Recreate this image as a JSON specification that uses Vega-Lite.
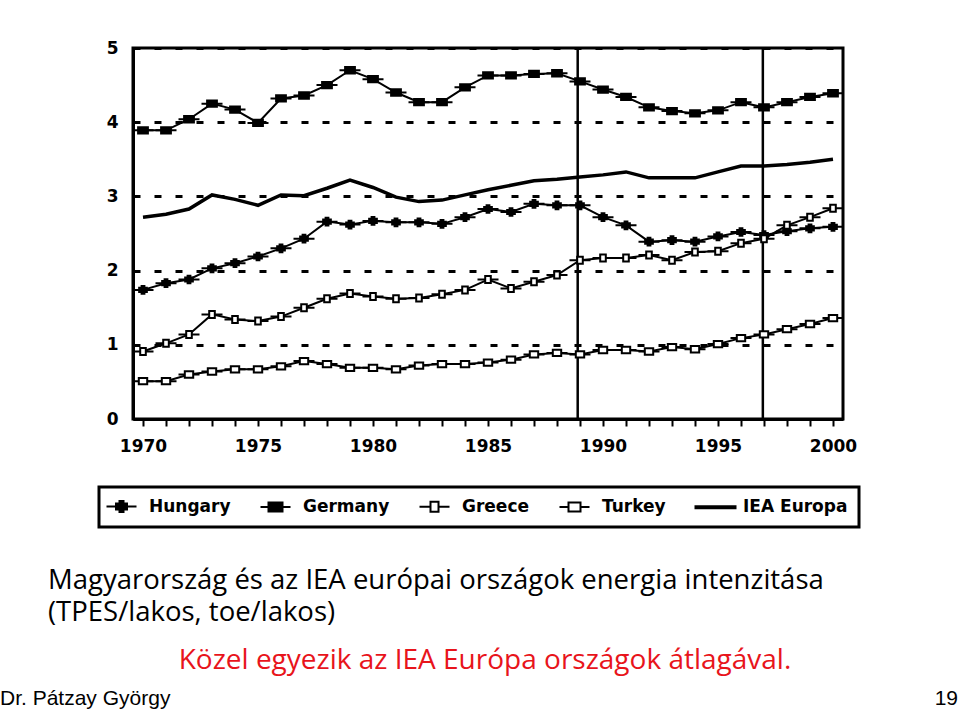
{
  "$schema": "https://vega.github.io/schema/vega-lite/v6.json",
  "padding": {"left": 0, "top": 37, "right": 0, "bottom": 0},
  "background": "white",
  "spacing": 0,
  "config": {
    "view": {"stroke": null},
    "font": "DejaVu Sans",
    "legend": {
      "orient": "none",
      "legendX": -34,
      "legendY": 439,
      "direction": "horizontal",
      "columns": 5,
      "title": null,
      "strokeColor": "black",
      "strokeWidth": 3,
      "fillColor": "white",
      "padding": 11,
      "columnPadding": 25,
      "symbolSize": 100,
      "symbolStrokeWidth": 2,
      "symbolStrokeColor": "black",
      "symbolOffset": 3,
      "labelOffset": 19,
      "labelFont": "DejaVu Sans",
      "labelFontWeight": "bold",
      "labelFontSize": 17,
      "labelColor": "black"
    }
  },
  "datasets": {
    "series": [
      {"year":1970,"series":"Hungary","value":1.74},{"year":1971,"series":"Hungary","value":1.83},{"year":1972,"series":"Hungary","value":1.88},{"year":1973,"series":"Hungary","value":2.03},{"year":1974,"series":"Hungary","value":2.10},{"year":1975,"series":"Hungary","value":2.19},{"year":1976,"series":"Hungary","value":2.30},{"year":1977,"series":"Hungary","value":2.43},{"year":1978,"series":"Hungary","value":2.66},{"year":1979,"series":"Hungary","value":2.62},{"year":1980,"series":"Hungary","value":2.67},{"year":1981,"series":"Hungary","value":2.65},{"year":1982,"series":"Hungary","value":2.65},{"year":1983,"series":"Hungary","value":2.63},{"year":1984,"series":"Hungary","value":2.72},{"year":1985,"series":"Hungary","value":2.83},{"year":1986,"series":"Hungary","value":2.79},{"year":1987,"series":"Hungary","value":2.90},{"year":1988,"series":"Hungary","value":2.88},{"year":1989,"series":"Hungary","value":2.88},{"year":1990,"series":"Hungary","value":2.72},{"year":1991,"series":"Hungary","value":2.61},{"year":1992,"series":"Hungary","value":2.39},{"year":1993,"series":"Hungary","value":2.41},{"year":1994,"series":"Hungary","value":2.39},{"year":1995,"series":"Hungary","value":2.46},{"year":1996,"series":"Hungary","value":2.52},{"year":1997,"series":"Hungary","value":2.48},{"year":1998,"series":"Hungary","value":2.53},{"year":1999,"series":"Hungary","value":2.57},{"year":2000,"series":"Hungary","value":2.59},
      {"year":1970,"series":"Germany","value":3.89},{"year":1971,"series":"Germany","value":3.89},{"year":1972,"series":"Germany","value":4.04},{"year":1973,"series":"Germany","value":4.25},{"year":1974,"series":"Germany","value":4.17},{"year":1975,"series":"Germany","value":3.99},{"year":1976,"series":"Germany","value":4.32},{"year":1977,"series":"Germany","value":4.36},{"year":1978,"series":"Germany","value":4.50},{"year":1979,"series":"Germany","value":4.70},{"year":1980,"series":"Germany","value":4.58},{"year":1981,"series":"Germany","value":4.40},{"year":1982,"series":"Germany","value":4.27},{"year":1983,"series":"Germany","value":4.27},{"year":1984,"series":"Germany","value":4.47},{"year":1985,"series":"Germany","value":4.63},{"year":1986,"series":"Germany","value":4.63},{"year":1987,"series":"Germany","value":4.65},{"year":1988,"series":"Germany","value":4.66},{"year":1989,"series":"Germany","value":4.55},{"year":1990,"series":"Germany","value":4.44},{"year":1991,"series":"Germany","value":4.34},{"year":1992,"series":"Germany","value":4.20},{"year":1993,"series":"Germany","value":4.15},{"year":1994,"series":"Germany","value":4.12},{"year":1995,"series":"Germany","value":4.16},{"year":1996,"series":"Germany","value":4.27},{"year":1997,"series":"Germany","value":4.20},{"year":1998,"series":"Germany","value":4.27},{"year":1999,"series":"Germany","value":4.34},{"year":2000,"series":"Germany","value":4.39},
      {"year":1970,"series":"Greece","value":0.91},{"year":1971,"series":"Greece","value":1.02},{"year":1972,"series":"Greece","value":1.14},{"year":1973,"series":"Greece","value":1.41},{"year":1974,"series":"Greece","value":1.34},{"year":1975,"series":"Greece","value":1.32},{"year":1976,"series":"Greece","value":1.38},{"year":1977,"series":"Greece","value":1.50},{"year":1978,"series":"Greece","value":1.62},{"year":1979,"series":"Greece","value":1.69},{"year":1980,"series":"Greece","value":1.65},{"year":1981,"series":"Greece","value":1.62},{"year":1982,"series":"Greece","value":1.63},{"year":1983,"series":"Greece","value":1.68},{"year":1984,"series":"Greece","value":1.74},{"year":1985,"series":"Greece","value":1.88},{"year":1986,"series":"Greece","value":1.76},{"year":1987,"series":"Greece","value":1.85},{"year":1988,"series":"Greece","value":1.94},{"year":1989,"series":"Greece","value":2.14},{"year":1990,"series":"Greece","value":2.17},{"year":1991,"series":"Greece","value":2.17},{"year":1992,"series":"Greece","value":2.21},{"year":1993,"series":"Greece","value":2.14},{"year":1994,"series":"Greece","value":2.25},{"year":1995,"series":"Greece","value":2.26},{"year":1996,"series":"Greece","value":2.37},{"year":1997,"series":"Greece","value":2.43},{"year":1998,"series":"Greece","value":2.61},{"year":1999,"series":"Greece","value":2.72},{"year":2000,"series":"Greece","value":2.84},
      {"year":1970,"series":"Turkey","value":0.51},{"year":1971,"series":"Turkey","value":0.51},{"year":1972,"series":"Turkey","value":0.60},{"year":1973,"series":"Turkey","value":0.64},{"year":1974,"series":"Turkey","value":0.67},{"year":1975,"series":"Turkey","value":0.67},{"year":1976,"series":"Turkey","value":0.71},{"year":1977,"series":"Turkey","value":0.78},{"year":1978,"series":"Turkey","value":0.74},{"year":1979,"series":"Turkey","value":0.69},{"year":1980,"series":"Turkey","value":0.69},{"year":1981,"series":"Turkey","value":0.67},{"year":1982,"series":"Turkey","value":0.72},{"year":1983,"series":"Turkey","value":0.74},{"year":1984,"series":"Turkey","value":0.74},{"year":1985,"series":"Turkey","value":0.76},{"year":1986,"series":"Turkey","value":0.80},{"year":1987,"series":"Turkey","value":0.87},{"year":1988,"series":"Turkey","value":0.89},{"year":1989,"series":"Turkey","value":0.87},{"year":1990,"series":"Turkey","value":0.93},{"year":1991,"series":"Turkey","value":0.93},{"year":1992,"series":"Turkey","value":0.91},{"year":1993,"series":"Turkey","value":0.97},{"year":1994,"series":"Turkey","value":0.94},{"year":1995,"series":"Turkey","value":1.01},{"year":1996,"series":"Turkey","value":1.09},{"year":1997,"series":"Turkey","value":1.14},{"year":1998,"series":"Turkey","value":1.21},{"year":1999,"series":"Turkey","value":1.28},{"year":2000,"series":"Turkey","value":1.36},
      {"year":1970,"series":"IEA Europa","value":2.72},{"year":1971,"series":"IEA Europa","value":2.76},{"year":1972,"series":"IEA Europa","value":2.83},{"year":1973,"series":"IEA Europa","value":3.02},{"year":1974,"series":"IEA Europa","value":2.96},{"year":1975,"series":"IEA Europa","value":2.88},{"year":1976,"series":"IEA Europa","value":3.02},{"year":1977,"series":"IEA Europa","value":3.01},{"year":1978,"series":"IEA Europa","value":3.11},{"year":1979,"series":"IEA Europa","value":3.22},{"year":1980,"series":"IEA Europa","value":3.12},{"year":1981,"series":"IEA Europa","value":2.99},{"year":1982,"series":"IEA Europa","value":2.93},{"year":1983,"series":"IEA Europa","value":2.95},{"year":1984,"series":"IEA Europa","value":3.02},{"year":1985,"series":"IEA Europa","value":3.09},{"year":1986,"series":"IEA Europa","value":3.15},{"year":1987,"series":"IEA Europa","value":3.21},{"year":1988,"series":"IEA Europa","value":3.23},{"year":1989,"series":"IEA Europa","value":3.26},{"year":1990,"series":"IEA Europa","value":3.29},{"year":1991,"series":"IEA Europa","value":3.33},{"year":1992,"series":"IEA Europa","value":3.25},{"year":1993,"series":"IEA Europa","value":3.25},{"year":1994,"series":"IEA Europa","value":3.25},{"year":1995,"series":"IEA Europa","value":3.33},{"year":1996,"series":"IEA Europa","value":3.41},{"year":1997,"series":"IEA Europa","value":3.41},{"year":1998,"series":"IEA Europa","value":3.43},{"year":1999,"series":"IEA Europa","value":3.46},{"year":2000,"series":"IEA Europa","value":3.50}
    ],
    "markers": [{"year": 1988.9}, {"year": 1996.95}]
  },
  "vconcat": [
    {
      "width": 710,
      "height": 371,
      "view": {"stroke": "black", "strokeWidth": 3},
      "data": {"name": "series"},
      "encoding": {
        "x": {
          "field": "year", "type": "quantitative",
          "scale": {"domain": [1969.565, 2000.435], "nice": false, "zero": false},
          "axis": {
            "title": null,
            "values": [1970,1971,1972,1973,1974,1975,1976,1977,1978,1979,1980,1981,1982,1983,1984,1985,1986,1987,1988,1989,1990,1991,1992,1993,1994,1995,1996,1997,1998,1999,2000],
            "format": "d",
            "labelExpr": "datum.value % 5 === 0 ? datum.label : ''",
            "grid": false,
            "domainColor": "black", "domainWidth": 3,
            "tickColor": "black", "tickWidth": 2, "tickSize": 7,
            "labelFont": "DejaVu Sans", "labelFontWeight": "bold", "labelFontSize": 17,
            "labelColor": "black", "labelPadding": 12
          }
        }
      },
      "layer": [
        {
          "data": {"name": "markers"},
          "mark": {"type": "rule", "color": "black", "strokeWidth": 2.5},
          "encoding": {}
        },
        {
          "transform": [{"filter": "datum.series !== 'IEA Europa'"}],
          "mark": {"type": "line", "color": "black", "strokeWidth": 2},
          "encoding": {
            "y": {
              "field": "value", "type": "quantitative",
              "scale": {"domain": [0, 5], "nice": false},
              "axis": {
                "title": null,
                "values": [0,1,2,3,4,5],
                "format": "d",
                "grid": true, "gridColor": "black", "gridWidth": 3, "gridDash": [7, 14], "gridOpacity": 1,
                "ticks": false,
                "domainColor": "black", "domainWidth": 3,
                "labelFont": "DejaVu Sans", "labelFontWeight": "bold", "labelFontSize": 17,
                "labelColor": "black", "labelPadding": 15,
                "minExtent": 131, "maxExtent": 131
              }
            },
            "detail": {"field": "series", "type": "nominal"}
          }
        },
        {
          "transform": [{"filter": "datum.series === 'IEA Europa'"}],
          "mark": {"type": "line", "color": "black", "strokeWidth": 3.5},
          "encoding": {
            "y": {"field": "value", "type": "quantitative"}
          }
        },
        {
          "transform": [{"filter": "datum.series !== 'IEA Europa'"}],
          "mark": {"type": "point", "strokeWidth": 2, "size": 49, "opacity": 1},
          "encoding": {
            "y": {"field": "value", "type": "quantitative"},
            "shape": {
              "field": "series", "type": "nominal",
              "scale": {
                "domain": ["Hungary", "Germany", "Greece", "Turkey", "IEA Europa"],
                "range": [
                  "M-3,0H-1.1M1.1,0H3M-1.1,-0.6H-0.4V-1.1H0.4V-0.6H1.1V0.6H0.4V1.1H-0.4V0.6H-1.1Z",
                  "M-3,0H-1.4M1.4,0H3M-1.4,-0.9H1.4V0.9H-1.4Z",
                  "M-3,0H-0.8M0.8,0H3M-0.8,-1H0.8V1H-0.8Z",
                  "M-3,0H-1.2M1.2,0H3M-1.2,-0.9H1.2V0.9H-1.2Z",
                  "M-4,-0.2H4V0.2H-4Z"
                ]
              },
              "legend": {"title": null}
            },
            "fill": {
              "field": "series", "type": "nominal",
              "scale": {
                "domain": ["Hungary", "Germany", "Greece", "Turkey", "IEA Europa"],
                "range": ["black", "black", "white", "white", "black"]
              },
              "legend": {"title": null}
            },
            "stroke": {
              "field": "series", "type": "nominal",
              "scale": {
                "domain": ["Hungary", "Germany", "Greece", "Turkey", "IEA Europa"],
                "range": ["black", "black", "black", "black", "black"]
              },
              "legend": {"title": null}
            }
          }
        }
      ]
    },
    {
      "width": 710,
      "height": 111,
      "data": {"values": []},
      "mark": "point",
      "title": {
        "text": ["Magyarország és az IEA európai országok energia intenzitása", "(TPES/lakos, toe/lakos)"],
        "orient": "bottom", "anchor": "start", "dx": -85, "offset": 0,
        "font": "Open Sans", "fontSize": 27.5, "fontWeight": "normal", "color": "black", "lineHeight": 32
      }
    },
    {
      "width": 710,
      "height": 20,
      "data": {"values": []},
      "mark": "point",
      "title": {
        "text": "Közel egyezik az IEA Európa országok átlagával.",
        "orient": "bottom", "anchor": "middle", "dx": -3, "offset": 0,
        "font": "Open Sans", "fontSize": 28, "fontWeight": "normal", "color": "#e8141b"
      }
    },
    {
      "spacing": 85,
      "hconcat": [
        {
          "width": 700,
          "height": 13,
          "data": {"values": []},
          "mark": "point",
          "title": {
            "text": "Dr. Pátzay György",
            "orient": "bottom", "anchor": "start", "dx": -133, "offset": 0,
            "font": "Liberation Sans", "fontSize": 21, "fontWeight": "normal", "color": "black"
          }
        },
        {
          "width": 40,
          "height": 13,
          "data": {"values": []},
          "mark": "point",
          "title": {
            "text": "19",
            "orient": "bottom", "anchor": "end", "offset": 0,
            "font": "Liberation Sans", "fontSize": 21, "fontWeight": "normal", "color": "black"
          }
        }
      ]
    }
  ]
}
